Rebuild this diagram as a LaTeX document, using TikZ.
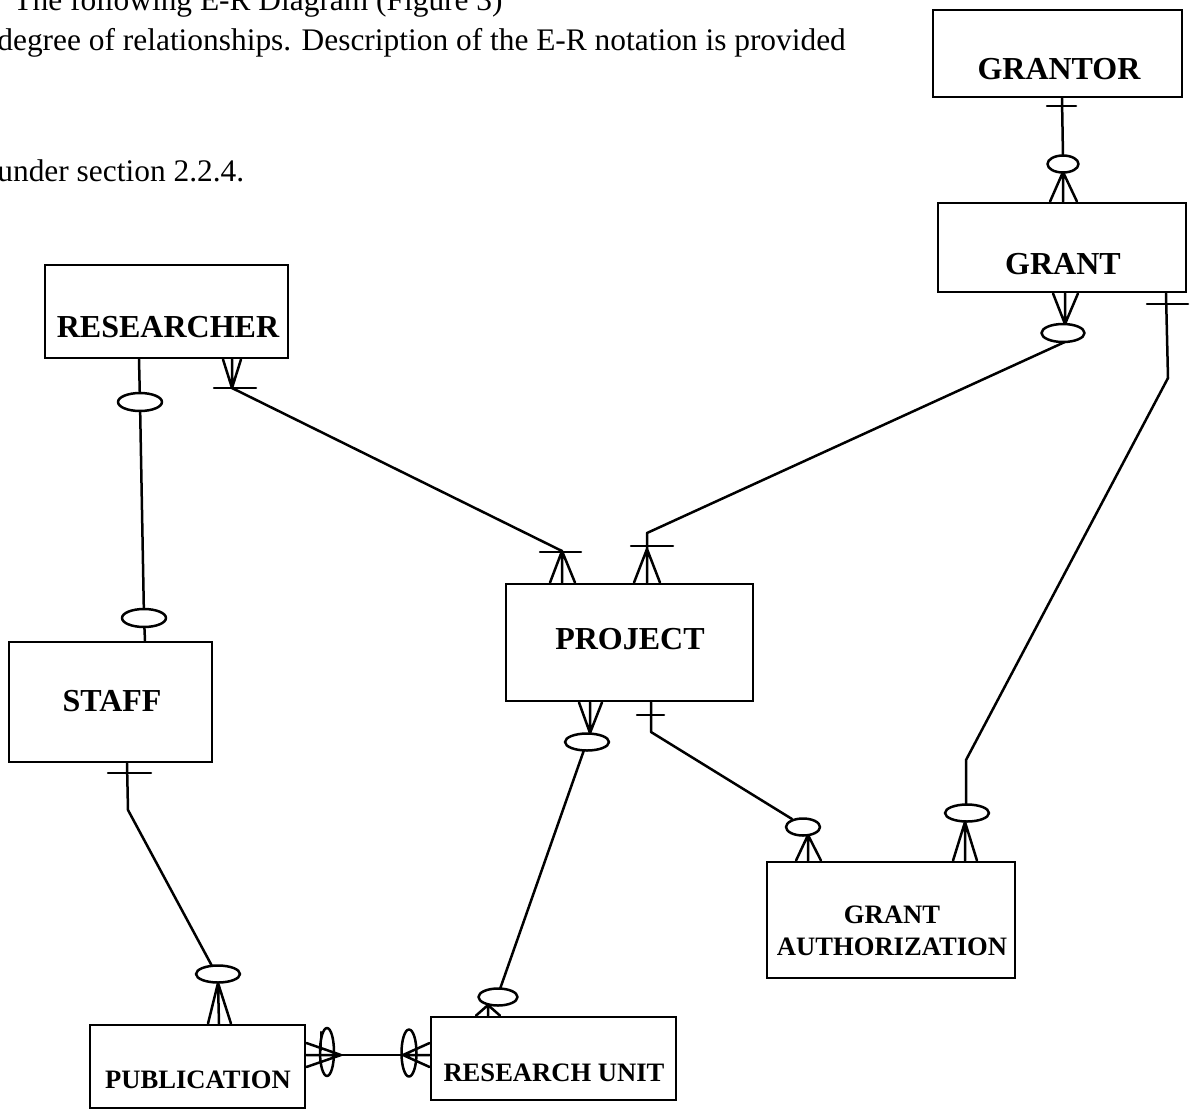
\documentclass[tikz,border=0pt]{standalone}
\usepackage{fontspec}
\setmainfont{Liberation Serif}
\begin{document}
\begin{tikzpicture}[x=0.5pt,y=-0.5pt,
  entity/.style={draw, line width=1.4pt, inner sep=0pt},
  bigname/.style={font=\fontsize{16pt}{18pt}\selectfont\bfseries, inner sep=0pt},
  smallname/.style={font=\fontsize{13.3pt}{15pt}\selectfont\bfseries, inner sep=0pt},
  bodytext/.style={font=\fontsize{15.7pt}{18pt}\selectfont, anchor=base west, inner sep=0pt},
  link/.style={line width=1.25pt, line cap=round, line join=round},
  zero/.style={link, fill=white},
]
\useasboundingbox (0,0) rectangle (1190,1110);
\fill[white] (0,0) rectangle (1190,1110);

% running text above the diagram
\node[bodytext] (intro1) at (13,10) {The following E-R Diagram (Figure 3)};
\node[bodytext] (intro2) at (-3,50) {degree of relationships. Description of the E-R notation is provided};
\node[bodytext] (intro3) at (-3,181) {under section 2.2.4.};

% entities
\node[entity, minimum width=124.5pt, minimum height=43.5pt] (grantor) at (1057.5,53.5) {};
\node[bigname] (grantor-t) at (1059,69) {GRANTOR};
\node[entity, minimum width=124pt, minimum height=44.5pt] (grant) at (1062,247.5) {};
\node[bigname] (grant-t) at (1063,264) {GRANT};
\node[entity, minimum width=121.5pt, minimum height=46.5pt] (researcher) at (166.5,311.5) {};
\node[bigname] (researcher-t) at (168,327) {RESEARCHER};
\node[entity, minimum width=101.5pt, minimum height=60pt] (staff) at (110.5,702) {};
\node[bigname] (staff-t) at (112,701) {STAFF};
\node[entity, minimum width=123.5pt, minimum height=58.5pt] (project) at (629.5,642.5) {};
\node[bigname] (project-t) at (630,639) {PROJECT};
\node[entity, minimum width=124pt, minimum height=58pt] (grantauth) at (891,920) {};
\node[smallname] (grantauth-t1) at (892,915) {GRANT};
\node[smallname] (grantauth-t2) at (892,947) {AUTHORIZATION};
\node[entity, minimum width=107.5pt, minimum height=41.5pt] (publication) at (197.5,1066.5) {};
\node[smallname] (publication-t) at (198,1080) {PUBLICATION};
\node[entity, minimum width=122.5pt, minimum height=41.5pt] (unit) at (553.5,1058.5) {};
\node[smallname] (unit-t) at (554,1073) {RESEARCH UNIT};

% GRANTOR -- GRANT
\coordinate (g1o) at (1063,164);
\coordinate (g1c) at (1063,172);
\draw[link] (grantor.south -| 1062,0) -- (1063,156);
\draw[link] (1047,106) -- (1076,106);
\draw[link] (g1c) -- (grant.north -| 1050,0) (g1c) -- (grant.north -| 1063,0) (g1c) -- (grant.north -| 1077,0);
\draw[zero] (g1o) ellipse [x radius=7.75pt, y radius=4.25pt];

% GRANT -- PROJECT
\coordinate (g2c) at (1065,324);
\coordinate (g2o) at (1063,333);
\coordinate (g2k) at (647,533);
\coordinate (p1c) at (647,549);
\draw[link] (g2c) -- (grant.south -| 1053,0) (g2c) -- (grant.south -| 1065,0) (g2c) -- (grant.south -| 1078,0);
\draw[link] (1067,341) -- (g2k) -- (p1c);
\draw[link] (631,546) -- (673,546);
\draw[link] (p1c) -- (project.north -| 634,0) (p1c) -- (project.north -| 647,0) (p1c) -- (project.north -| 660,0);
\draw[zero] (g2o) ellipse [x radius=10.75pt, y radius=4.5pt];

% RESEARCHER -- PROJECT
\coordinate (r1c) at (232,388);
\coordinate (p2c) at (562,551);
\draw[link] (r1c) -- (researcher.south -| 223,0) (r1c) -- (researcher.south -| 232,0) (r1c) -- (researcher.south -| 241,0);
\draw[link] (214,388) -- (256,388);
\draw[link] (r1c) -- (p2c);
\draw[link] (540,552) -- (581,552);
\draw[link] (p2c) -- (project.north -| 550,0) (p2c) -- (project.north -| 562,0) (p2c) -- (project.north -| 575,0);

% RESEARCHER -- STAFF
\coordinate (r2o) at (140,402);
\coordinate (s1o) at (144,618);
\draw[link] (researcher.south -| 139,0) -- (r2o) -- (s1o) -- (staff.north -| 145,0);
\draw[zero] (r2o) ellipse [x radius=11pt, y radius=4.5pt];
\draw[zero] (s1o) ellipse [x radius=11pt, y radius=4.5pt];

% STAFF -- PUBLICATION
\coordinate (s2k) at (128,810);
\coordinate (u1o) at (218,974);
\coordinate (u1c) at (218,983);
\draw[link] (staff.south -| 127,0) -- (s2k) -- (212,966);
\draw[link] (108,773) -- (151,773);
\draw[link] (u1c) -- (publication.north -| 208,0) (u1c) -- (publication.north -| 219,0) (u1c) -- (publication.north -| 231,0);
\draw[zero] (u1o) ellipse [x radius=11pt, y radius=4.25pt];

% PROJECT -- RESEARCH UNIT
\coordinate (p3c) at (590,733);
\coordinate (p3o) at (587,742);
\coordinate (u2o) at (498,997);
\coordinate (u2c) at (488,1005);
\draw[link] (p3c) -- (project.south -| 579,0) (p3c) -- (project.south -| 590,0) (p3c) -- (project.south -| 602,0);
\draw[link] (584,750) -- (500,989);
\draw[link] (u2c) -- (unit.north -| 476,0) (u2c) -- (unit.north -| 488,0) (u2c) -- (unit.north -| 500,0);
\draw[zero] (p3o) ellipse [x radius=11pt, y radius=4.25pt];
\draw[zero] (u2o) ellipse [x radius=9.75pt, y radius=4.25pt];

% PROJECT -- GRANT AUTHORIZATION
\coordinate (p4k) at (651,732);
\coordinate (a1o) at (803,827);
\coordinate (a1c) at (808,835);
\draw[link] (project.south -| 651,0) -- (p4k) -- (792,819);
\draw[link] (637,715) -- (664,715);
\draw[link] (a1c) -- (grantauth.north -| 796,0) (a1c) -- (grantauth.north -| 808,0) (a1c) -- (grantauth.north -| 821,0);
\draw[zero] (a1o) ellipse [x radius=8.5pt, y radius=4.25pt];

% GRANT -- GRANT AUTHORIZATION
\coordinate (g3k) at (1168,378);
\coordinate (g3m) at (966,760);
\coordinate (a2o) at (967,813);
\coordinate (a2c) at (965,822);
\draw[link] (grant.south -| 1166,0) -- (g3k) -- (g3m) -- (966,805);
\draw[link] (1147,304) -- (1188,304);
\draw[link] (a2c) -- (grantauth.north -| 953,0) (a2c) -- (grantauth.north -| 965,0) (a2c) -- (grantauth.north -| 977,0);
\draw[zero] (a2o) ellipse [x radius=11pt, y radius=4.25pt];

% PUBLICATION -- RESEARCH UNIT
\coordinate (u3c) at (341,1055);
\coordinate (u4c) at (403,1055);
\draw[link] (u3c) -- (u4c);
\draw[link] (u3c) -- (publication.east |- 0,1043) (u3c) -- (publication.east |- 0,1055) (u3c) -- (publication.east |- 0,1067);
\draw[link] (u4c) -- (unit.west |- 0,1043) (u4c) -- (unit.west |- 0,1055) (u4c) -- (unit.west |- 0,1067);
\draw[link] (327,1052) ellipse [x radius=3.5pt, y radius=12pt];
\draw[link] (409,1053) ellipse [x radius=3.75pt, y radius=11.75pt];
\draw[link] (321,1032) -- (321,1050);
\end{tikzpicture}
\end{document}
